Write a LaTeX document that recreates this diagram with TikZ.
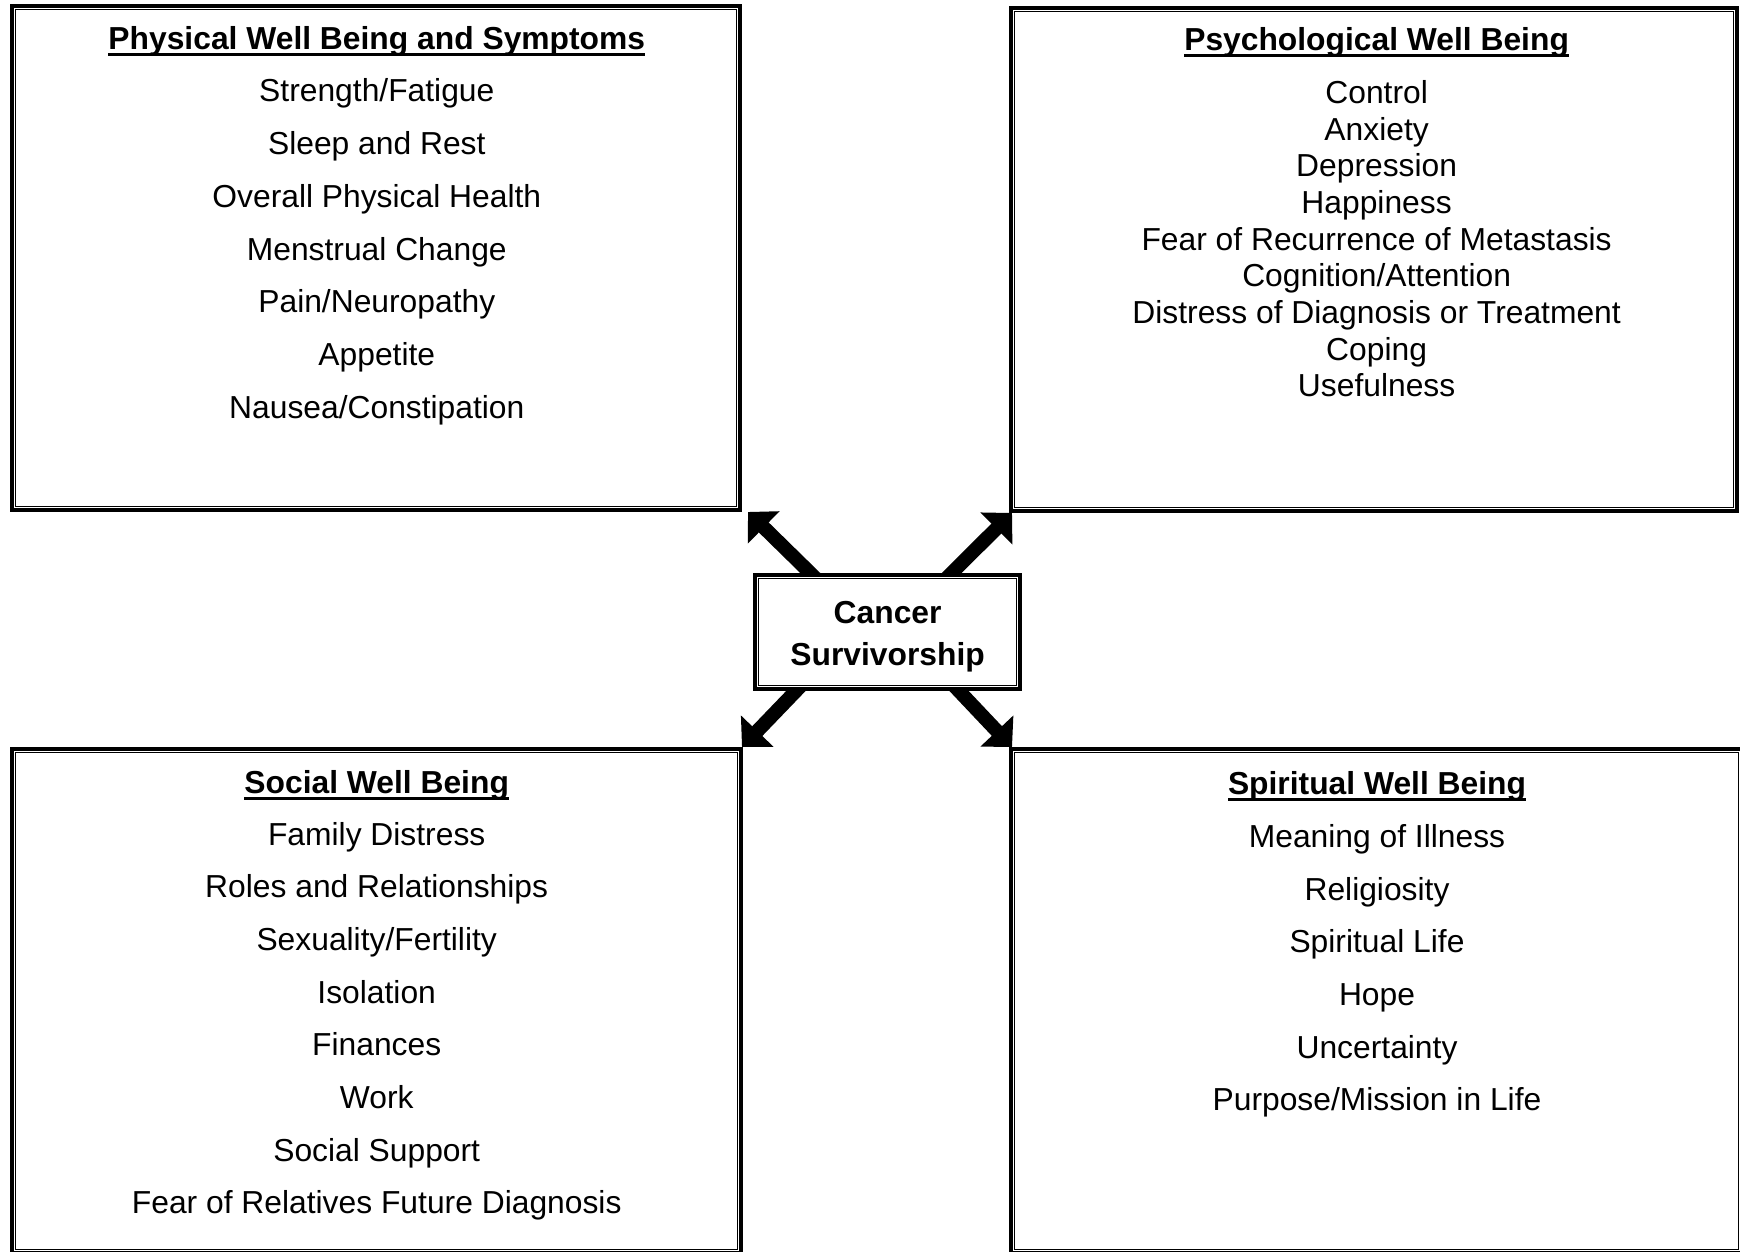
\documentclass[tikz,border=0pt]{standalone}
\usepackage{fontspec}
\setmainfont{Liberation Sans}
\usetikzlibrary{arrows.meta,backgrounds}
\newsavebox\ulbox
\newcommand{\myul}[1]{\sbox\ulbox{#1}\rlap{\rule[-6.5pt]{\wd\ulbox}{3pt}}\usebox\ulbox}
\begin{document}
\begin{tikzpicture}[x=1pt,y=-1pt,
  every node/.style={font=\fontsize{31.8}{38}\selectfont, inner sep=0pt, outer sep=0pt},
  frame/.style={draw, line width=4pt},
  thinline/.style={draw, line width=1.1pt},
  item/.style={anchor=base},
  title/.style={anchor=base, font=\fontsize{31.8}{38}\selectfont\bfseries},
  bigarrow/.style={line width=14pt, -{Triangle[length=22pt,width=44pt]}}]
\useasboundingbox (0,0) rectangle (1740,1251);

% four frames
\node[frame, minimum width=728pt, minimum height=504pt] (pb) at (376,258) {};
\node[frame, minimum width=726pt, minimum height=503pt] (psy) at (1374,259.5) {};
\node[frame, minimum width=729pt, minimum height=504pt] (soc) at (376.5,1001) {};
\node[frame, minimum width=731pt, minimum height=504pt] (spi) at (1376.5,1001) {};
\foreach \b in {pb,psy,soc,spi}
  \draw[thinline] ([shift={(3.5,3.5)}]\b.north west) rectangle ([shift={(-3.5,-3.5)}]\b.south east);

% centre box
\node[frame, fill=white, minimum width=264.7pt, minimum height=114.3pt] (cs) at (887.6,631.8) {};
\draw[thinline] ([shift={(3.5,3.5)}]cs.north west) rectangle ([shift={(-3.5,-3.5)}]cs.south east);
\node[title] (cs1) at (887.6,623.3) {Cancer};
\node[title] (cs2) at (887.6,665) {Survivorship};

% arrows
\begin{scope}[on background layer]
\draw[bigarrow] ([shift={(72,15)}]cs.north west) -- ([shift={(8,2)}]pb.south east);
\draw[bigarrow] ([shift={(-85,15)}]cs.north east) -- ([shift={(1,2)}]psy.south west);
\draw[bigarrow] ([shift={(57,-15)}]cs.south west) -- ([shift={(1,-2)}]soc.north east);
\draw[bigarrow] ([shift={(-77,-15)}]cs.south east) -- ([shift={(1,-2)}]spi.north west);
\end{scope}

% Physical
\node[title] (pbt) at (376.8,49.3) {\myul{Physical Well Being and Symptoms}};
\foreach \t [count=\i from 0] in {Strength/Fatigue,Sleep and Rest,Overall Physical Health,Menstrual Change,Pain/Neuropathy,Appetite,Nausea/Constipation}
  \node[item] (pb\i) at (376.8,101.7+52.8*\i) {\t};

% Psychological
\node[title] (psyt) at (1376.6,50.7) {\myul{Psychological Well Being}};
\foreach \t [count=\i from 0] in {Control,Anxiety,Depression,Happiness,Fear of Recurrence of Metastasis,Cognition/Attention,Distress of Diagnosis or Treatment,Coping,Usefulness}
  \node[item] (psy\i) at (1376.6,103.3+36.7*\i) {\t};

% Social
\node[title] (soct) at (376.7,793.3) {\myul{Social Well Being}};
\foreach \t [count=\i from 0] in {Family Distress,Roles and Relationships,Sexuality/Fertility,Isolation,Finances,Work,Social Support,Fear of Relatives Future Diagnosis}
  \node[item] (soc\i) at (376.7,845+52.7*\i) {\t};

% Spiritual
\node[title] (spit) at (1377,794) {\myul{Spiritual Well Being}};
\foreach \t [count=\i from 0] in {Meaning of Illness,Religiosity,Spiritual Life,Hope,Uncertainty,Purpose/Mission in Life}
  \node[item] (spi\i) at (1377,847.3+52.7*\i) {\t};
\end{tikzpicture}
\end{document}
